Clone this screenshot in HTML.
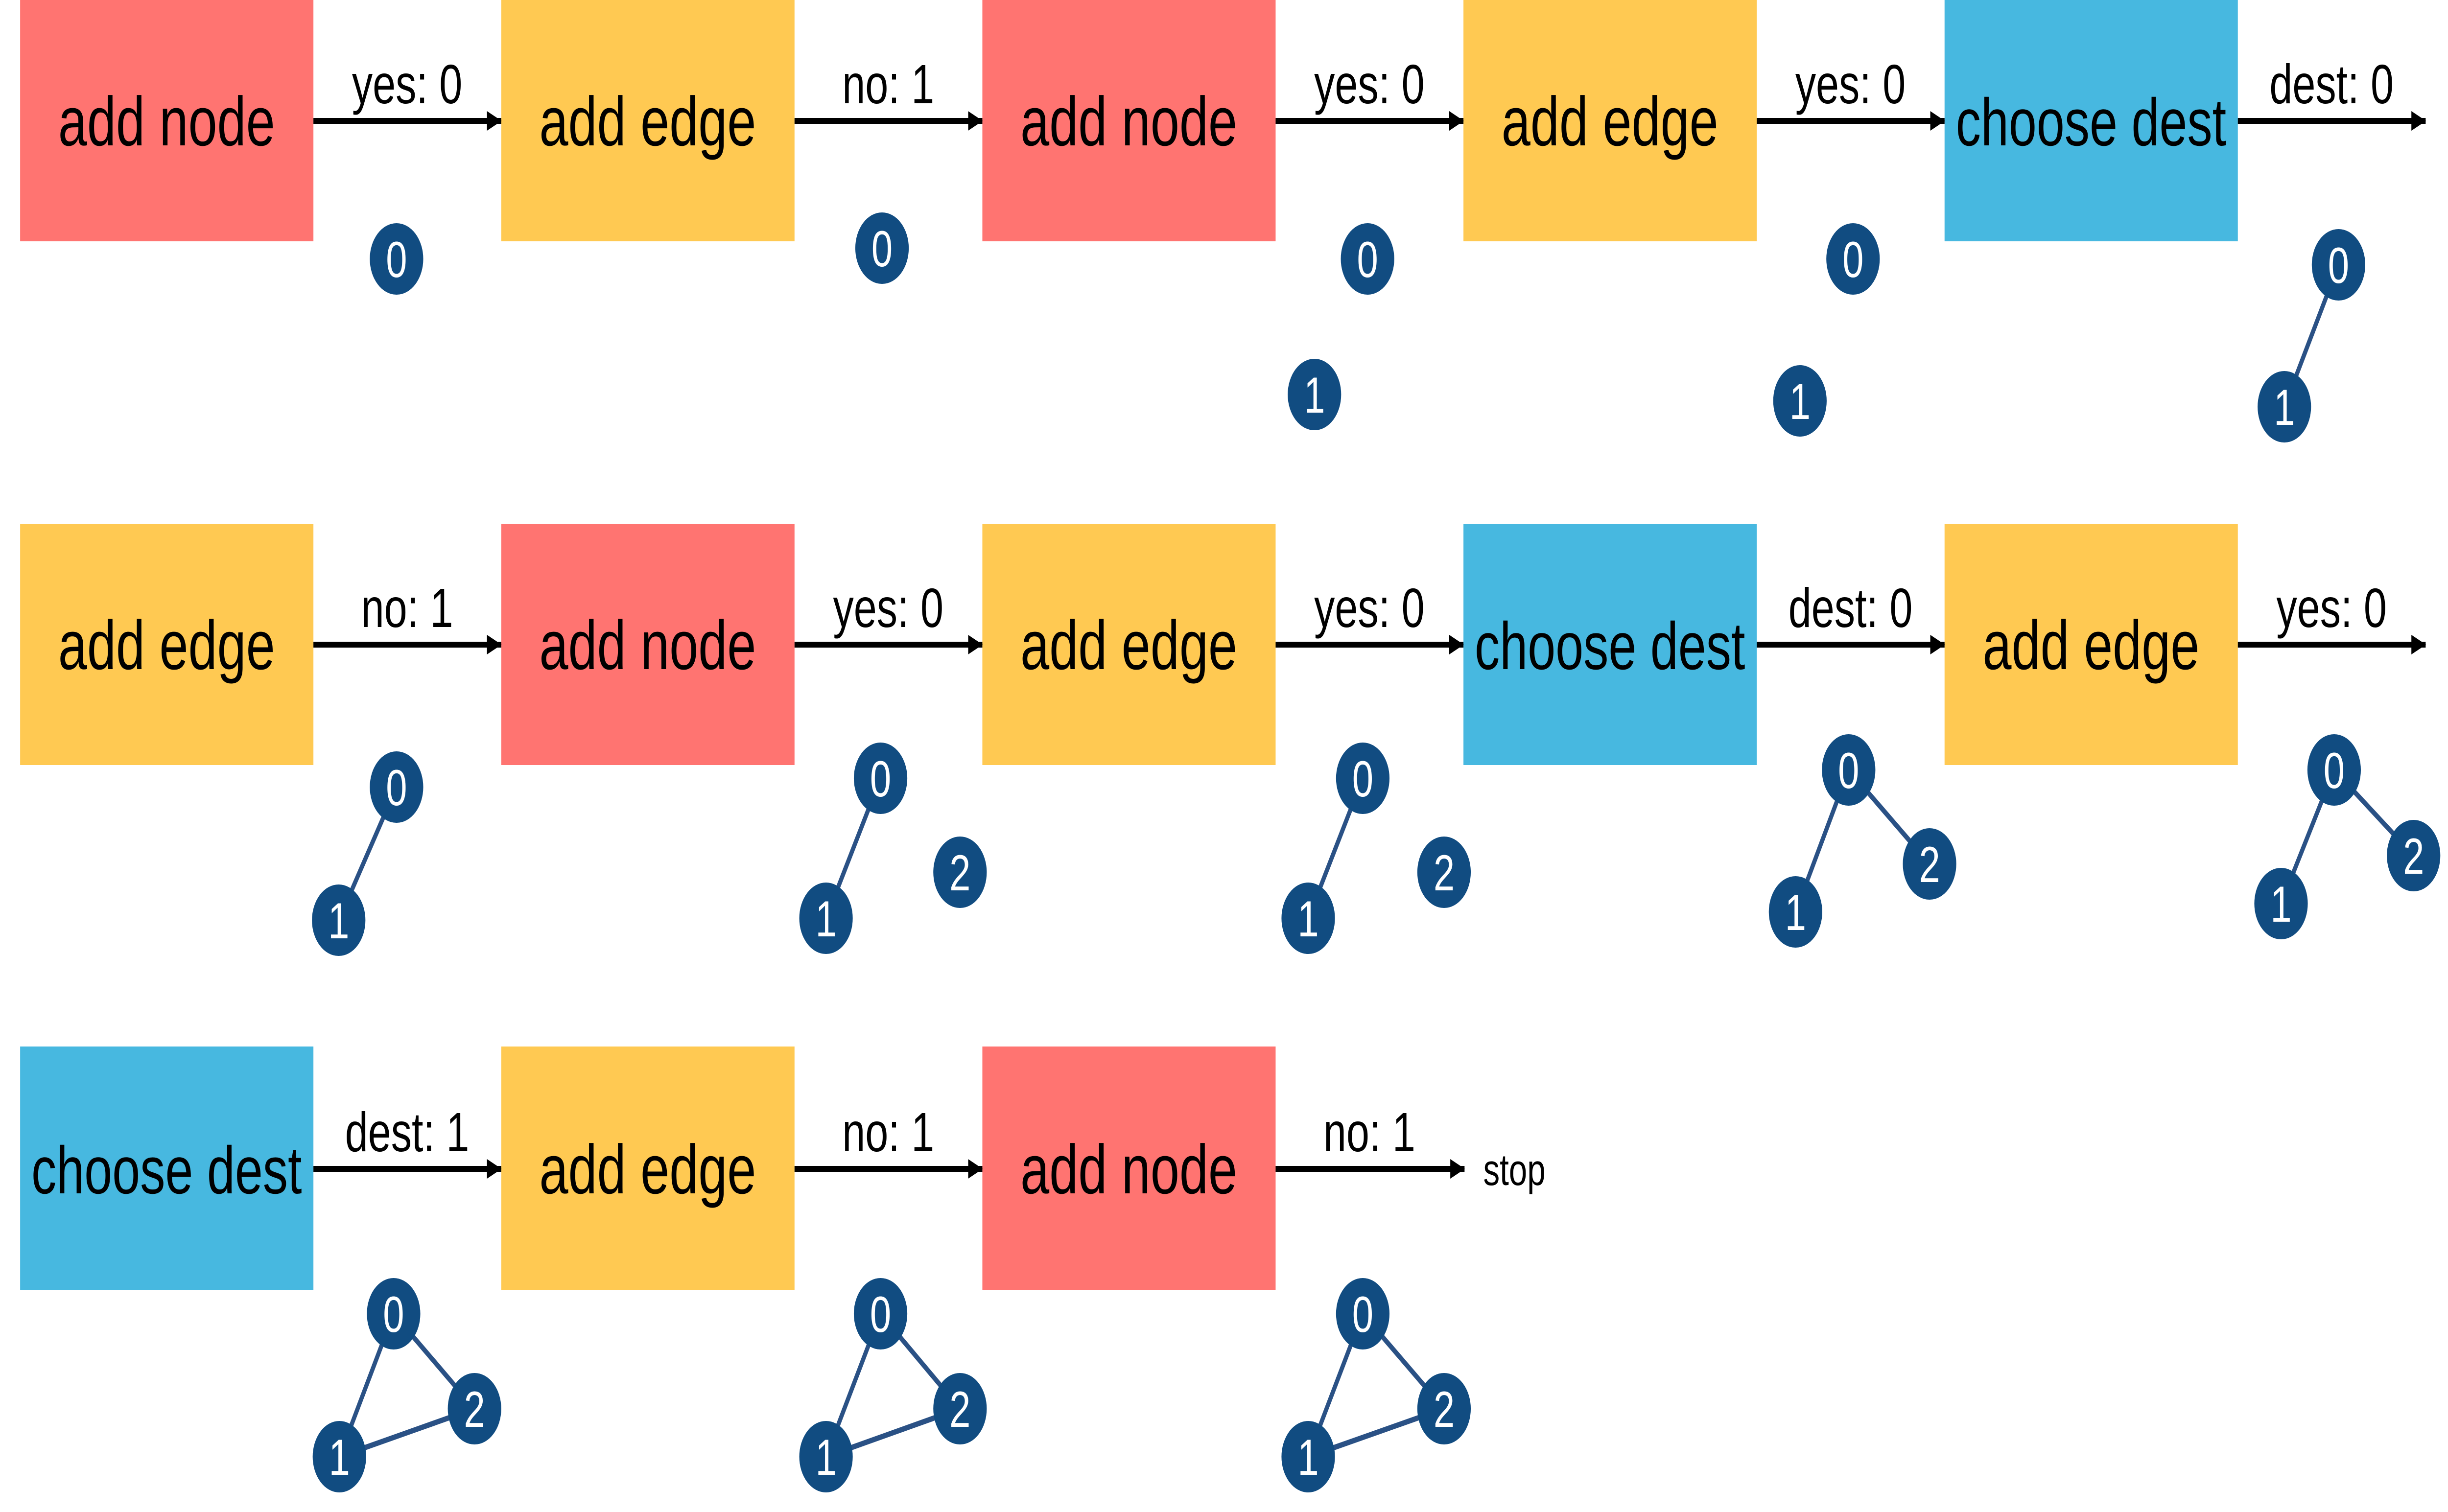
<!DOCTYPE html>
<html><head><meta charset="utf-8"><style>html,body{margin:0;padding:0;background:#fff;overflow:hidden;width:100vw;height:100vh}svg{display:block;width:100vw;height:100vh}</style></head>
<body>
<svg viewBox="0 0 6686 3089" preserveAspectRatio="none" xmlns="http://www.w3.org/2000/svg" font-family="Liberation Sans, sans-serif">
<defs>
<marker id="ah" markerWidth="40" markerHeight="40" refX="39" refY="20" orient="auto" markerUnits="userSpaceOnUse"><path d="M0,0 L40,20 L0,40 Z" fill="#000"/></marker>
</defs>
<g font-size="142" text-anchor="middle" fill="#000">
<rect x="55" y="0" width="801" height="493" fill="#ff7471"/><text x="455" y="297">add node</text>
<rect x="1369" y="0" width="801" height="493" fill="#ffc952"/><text x="1769" y="297">add edge</text>
<rect x="2683" y="0" width="801" height="493" fill="#ff7471"/><text x="3083" y="297">add node</text>
<rect x="3997" y="0" width="801" height="493" fill="#ffc952"/><text x="4397" y="297">add edge</text>
<rect x="5311" y="0" width="801" height="493" fill="#47b8e0"/><text x="5711" y="297" font-size="137">choose dest</text>
<rect x="55" y="1070" width="801" height="493" fill="#ffc952"/><text x="455" y="1367">add edge</text>
<rect x="1369" y="1070" width="801" height="493" fill="#ff7471"/><text x="1769" y="1367">add node</text>
<rect x="2683" y="1070" width="801" height="493" fill="#ffc952"/><text x="3083" y="1367">add edge</text>
<rect x="3997" y="1070" width="801" height="493" fill="#47b8e0"/><text x="4397" y="1367" font-size="137">choose dest</text>
<rect x="5311" y="1070" width="801" height="493" fill="#ffc952"/><text x="5711" y="1367">add edge</text>
<rect x="55" y="2138" width="801" height="497" fill="#47b8e0"/><text x="455" y="2438" font-size="137">choose dest</text>
<rect x="1369" y="2138" width="801" height="497" fill="#ffc952"/><text x="1769" y="2438">add edge</text>
<rect x="2683" y="2138" width="801" height="497" fill="#ff7471"/><text x="3083" y="2438">add node</text>
</g>
<g stroke="#000" stroke-width="12" marker-end="url(#ah)">
<line x1="856" y1="247" x2="1369" y2="247"/><line x1="2170" y1="247" x2="2683" y2="247"/><line x1="3484" y1="247" x2="3997" y2="247"/><line x1="4798" y1="247" x2="5311" y2="247"/><line x1="6112" y1="247" x2="6625" y2="247"/>
<line x1="856" y1="1317" x2="1369" y2="1317"/><line x1="2170" y1="1317" x2="2683" y2="1317"/><line x1="3484" y1="1317" x2="3997" y2="1317"/><line x1="4798" y1="1317" x2="5311" y2="1317"/><line x1="6112" y1="1317" x2="6625" y2="1317"/>
<line x1="856" y1="2388" x2="1369" y2="2388"/><line x1="2170" y1="2388" x2="2683" y2="2388"/><line x1="3484" y1="2388" x2="4000" y2="2388"/>
</g>
<g font-size="113" text-anchor="middle" fill="#000">
<text x="1112" y="211">yes: 0</text><text x="2426" y="211">no: 1</text><text x="3740" y="211">yes: 0</text><text x="5054" y="211">yes: 0</text><text x="6368" y="211">dest: 0</text>
<text x="1112" y="1281">no: 1</text><text x="2426" y="1281">yes: 0</text><text x="3740" y="1281">yes: 0</text><text x="5054" y="1281">dest: 0</text><text x="6368" y="1281">yes: 0</text>
<text x="1112" y="2352">dest: 1</text><text x="2426" y="2352">no: 1</text><text x="3740" y="2352">no: 1</text>
</g>
<text x="4051" y="2421" font-size="90" fill="#000">stop</text>
<g stroke="#2a5185" stroke-width="11">
<line x1="6387" y1="541" x2="6239" y2="831"/>
<line x1="1083" y1="1608" x2="925" y2="1880"/>
<line x1="2405" y1="1590" x2="2256" y2="1876"/>
<line x1="3722" y1="1590" x2="3573" y2="1876"/>
<line x1="5049" y1="1573" x2="4904" y2="1863"/><line x1="5049" y1="1573" x2="5270" y2="1765"/>
<line x1="6375" y1="1573" x2="6230" y2="1846"/><line x1="6375" y1="1573" x2="6592" y2="1748"/>
<line x1="1075" y1="2684" x2="927" y2="2976"/><line x1="1075" y1="2684" x2="1296" y2="2878"/><line x1="927" y1="2976" x2="1296" y2="2878"/>
<line x1="2405" y1="2684" x2="2256" y2="2976"/><line x1="2405" y1="2684" x2="2622" y2="2878"/><line x1="2256" y1="2976" x2="2622" y2="2878"/>
<line x1="3722" y1="2684" x2="3573" y2="2976"/><line x1="3722" y1="2684" x2="3944" y2="2878"/><line x1="3573" y1="2976" x2="3944" y2="2878"/>
</g>
<g fill="#114c81">
<circle cx="1083" cy="529" r="73"/><circle cx="2409" cy="507" r="73"/>
<circle cx="3735" cy="529" r="73"/><circle cx="3590" cy="806" r="73"/>
<circle cx="5061" cy="529" r="73"/><circle cx="4916" cy="819" r="73"/>
<circle cx="6387" cy="541" r="73"/><circle cx="6239" cy="831" r="73"/>
<circle cx="1083" cy="1608" r="73"/><circle cx="925" cy="1880" r="73"/>
<circle cx="2405" cy="1590" r="73"/><circle cx="2256" cy="1876" r="73"/><circle cx="2622" cy="1782" r="73"/>
<circle cx="3722" cy="1590" r="73"/><circle cx="3573" cy="1876" r="73"/><circle cx="3944" cy="1782" r="73"/>
<circle cx="5049" cy="1573" r="73"/><circle cx="4904" cy="1863" r="73"/><circle cx="5270" cy="1765" r="73"/>
<circle cx="6375" cy="1573" r="73"/><circle cx="6230" cy="1846" r="73"/><circle cx="6592" cy="1748" r="73"/>
<circle cx="1075" cy="2684" r="73"/><circle cx="927" cy="2976" r="73"/><circle cx="1296" cy="2878" r="73"/>
<circle cx="2405" cy="2684" r="73"/><circle cx="2256" cy="2976" r="73"/><circle cx="2622" cy="2878" r="73"/>
<circle cx="3722" cy="2684" r="73"/><circle cx="3573" cy="2976" r="73"/><circle cx="3944" cy="2878" r="73"/>
</g>
<g fill="#fff" font-size="104" text-anchor="middle">
<text x="1083" y="566">0</text><text x="2409" y="544">0</text>
<text x="3735" y="566">0</text><text x="3590" y="843">1</text>
<text x="5061" y="566">0</text><text x="4916" y="856">1</text>
<text x="6387" y="578">0</text><text x="6239" y="868">1</text>
<text x="1083" y="1645">0</text><text x="925" y="1917">1</text>
<text x="2405" y="1627">0</text><text x="2256" y="1913">1</text><text x="2622" y="1819">2</text>
<text x="3722" y="1627">0</text><text x="3573" y="1913">1</text><text x="3944" y="1819">2</text>
<text x="5049" y="1610">0</text><text x="4904" y="1900">1</text><text x="5270" y="1802">2</text>
<text x="6375" y="1610">0</text><text x="6230" y="1883">1</text><text x="6592" y="1785">2</text>
<text x="1075" y="2721">0</text><text x="927" y="3013">1</text><text x="1296" y="2915">2</text>
<text x="2405" y="2721">0</text><text x="2256" y="3013">1</text><text x="2622" y="2915">2</text>
<text x="3722" y="2721">0</text><text x="3573" y="3013">1</text><text x="3944" y="2915">2</text>
</g>
</svg>
</body></html>
